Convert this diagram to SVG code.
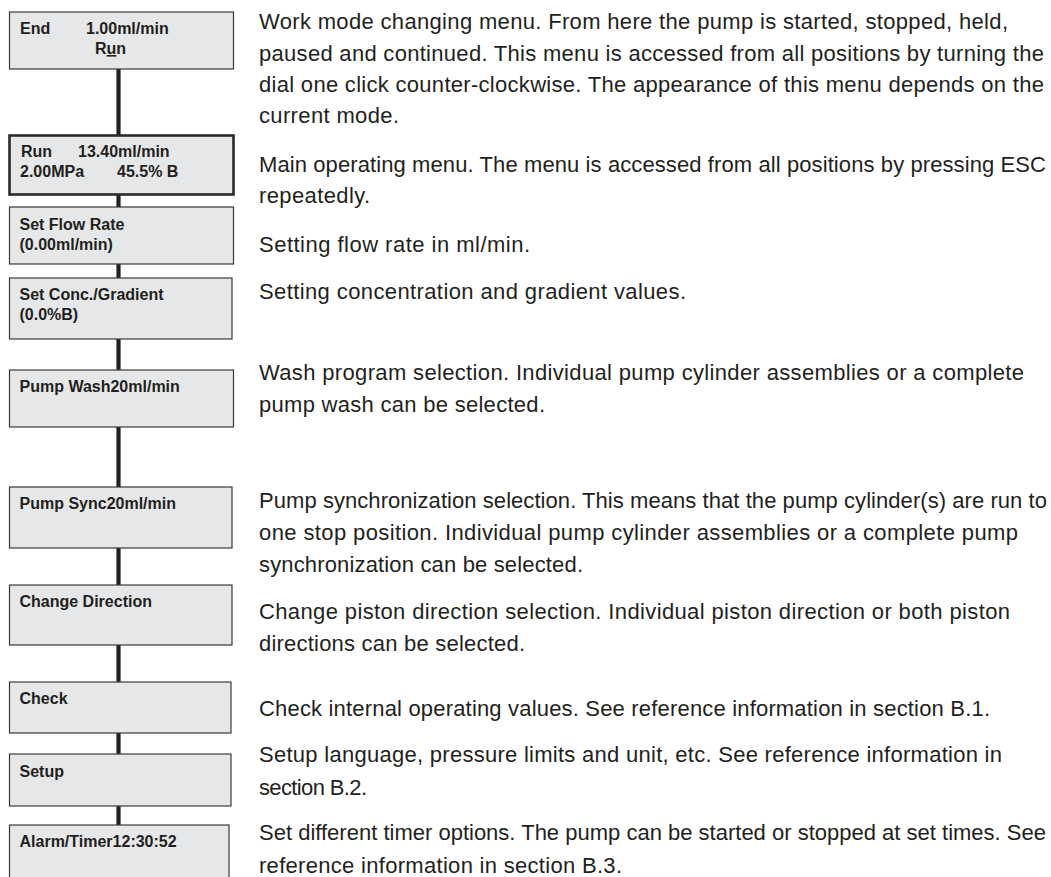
<svg xmlns="http://www.w3.org/2000/svg" width="1051" height="877" viewBox="0 0 1051 877">
<style>
.box{fill:#e6e7e8;stroke:#3a3a3a;stroke-width:1.2}
.boxb{fill:#e6e7e8;stroke:#2a2a2a;stroke-width:2.6}
.lbl{font-family:"Liberation Sans",Arial,sans-serif;font-weight:bold;font-size:16px;fill:#231f20}
.desc{font-family:"Liberation Sans",Arial,sans-serif;font-size:22px;fill:#231f20}
.conn{stroke:#231f20;stroke-width:4.2;fill:none}
</style>
<rect width="1051" height="877" fill="#ffffff"/>
<g id="connectors">
<line class="conn" x1="118.5" y1="69" x2="118.5" y2="135"/>
<line class="conn" x1="118.5" y1="195" x2="118.5" y2="207"/>
<line class="conn" x1="118.5" y1="264" x2="118.5" y2="278"/>
<line class="conn" x1="118.5" y1="339" x2="118.5" y2="370"/>
<line class="conn" x1="118.5" y1="427" x2="118.5" y2="487"/>
<line class="conn" x1="118.5" y1="548" x2="118.5" y2="585"/>
<line class="conn" x1="118.5" y1="645" x2="118.5" y2="682"/>
<line class="conn" x1="118.5" y1="733" x2="118.5" y2="754"/>
<line class="conn" x1="118.5" y1="806" x2="118.5" y2="825"/>
</g>
<g id="node-end">
<rect class="box" x="9.5" y="12" width="224" height="57"/>
<text class="lbl" x="20" y="34">End</text>
<text class="lbl" x="86" y="34">1.00ml/min</text>
<text class="lbl" x="95" y="54">R<tspan text-decoration="underline">u</tspan>n</text>
</g>
<g id="node-run">
<rect class="boxb" x="9.5" y="135.5" width="224" height="59"/>
<text class="lbl" x="21" y="157">Run</text>
<text class="lbl" x="78" y="157">13.40ml/min</text>
<text class="lbl" x="20" y="177">2.00MPa</text>
<text class="lbl" x="117" y="177">45.5% B</text>
</g>
<g id="node-flow">
<rect class="box" x="9.5" y="207" width="224" height="57"/>
<text class="lbl" x="19.5" y="229.5">Set Flow Rate</text>
<text class="lbl" x="19.5" y="250">(0.00ml/min)</text>
</g>
<g id="node-conc">
<rect class="box" x="9.5" y="278" width="222.5" height="61"/>
<text class="lbl" x="19.5" y="299.5">Set Conc./Gradient</text>
<text class="lbl" x="19.5" y="320">(0.0%B)</text>
</g>
<g id="node-wash">
<rect class="box" x="9.5" y="370" width="224" height="57"/>
<text class="lbl" x="19.5" y="391.5">Pump Wash20ml/min</text>
</g>
<g id="node-sync">
<rect class="box" x="9.5" y="487" width="222.5" height="61"/>
<text class="lbl" x="19.5" y="509">Pump Sync20ml/min</text>
</g>
<g id="node-direction">
<rect class="box" x="9.5" y="585" width="222.5" height="60"/>
<text class="lbl" x="19.5" y="606.5">Change Direction</text>
</g>
<g id="node-check">
<rect class="box" x="9.5" y="682" width="221.5" height="51"/>
<text class="lbl" x="19.5" y="703.5">Check</text>
</g>
<g id="node-setup">
<rect class="box" x="9.5" y="754" width="221.5" height="52"/>
<text class="lbl" x="19.5" y="776.5">Setup</text>
</g>
<g id="node-alarm">
<rect class="box" x="9.5" y="825" width="219.5" height="60"/>
<text class="lbl" x="19.5" y="846.5">Alarm/Timer12:30:52</text>
</g>
<g id="descriptions">
<text class="desc" x="259" y="29" textLength="749" lengthAdjust="spacing">Work mode changing menu. From here the pump is started, stopped, held,</text>
<text class="desc" x="259" y="60.5" textLength="785" lengthAdjust="spacing">paused and continued. This menu is accessed from all positions by turning the</text>
<text class="desc" x="259" y="91.5" textLength="785" lengthAdjust="spacing">dial one click counter-clockwise. The appearance of this menu depends on the</text>
<text class="desc" x="259" y="123" textLength="140" lengthAdjust="spacing">current mode.</text>
<text class="desc" x="259" y="172" textLength="787" lengthAdjust="spacing">Main operating menu. The menu is accessed from all positions by pressing ESC</text>
<text class="desc" x="259" y="203" textLength="111" lengthAdjust="spacing">repeatedly.</text>
<text class="desc" x="259" y="252" textLength="271" lengthAdjust="spacing">Setting flow rate in ml/min.</text>
<text class="desc" x="259" y="299" textLength="427" lengthAdjust="spacing">Setting concentration and gradient values.</text>
<text class="desc" x="259" y="380" textLength="765" lengthAdjust="spacing">Wash program selection. Individual pump cylinder assemblies or a complete</text>
<text class="desc" x="259" y="412" textLength="286" lengthAdjust="spacing">pump wash can be selected.</text>
<text class="desc" x="259" y="508" textLength="788" lengthAdjust="spacing">Pump synchronization selection. This means that the pump cylinder(s) are run to</text>
<text class="desc" x="259" y="540" textLength="759" lengthAdjust="spacing">one stop position. Individual pump cylinder assemblies or a complete pump</text>
<text class="desc" x="259" y="572" textLength="324" lengthAdjust="spacing">synchronization can be selected.</text>
<text class="desc" x="259" y="619" textLength="751" lengthAdjust="spacing">Change piston direction selection. Individual piston direction or both piston</text>
<text class="desc" x="259" y="651" textLength="266" lengthAdjust="spacing">directions can be selected.</text>
<text class="desc" x="259" y="716" textLength="731" lengthAdjust="spacing">Check internal operating values. See reference information in section B.1.</text>
<text class="desc" x="259" y="762" textLength="743" lengthAdjust="spacing">Setup language, pressure limits and unit, etc. See reference information in</text>
<text class="desc" x="259" y="795" textLength="108" lengthAdjust="spacing">section B.2.</text>
<text class="desc" x="259" y="840" textLength="787" lengthAdjust="spacing">Set different timer options. The pump can be started or stopped at set times. See</text>
<text class="desc" x="259" y="873" textLength="363" lengthAdjust="spacing">reference information in section B.3.</text>
</g>
</svg>
